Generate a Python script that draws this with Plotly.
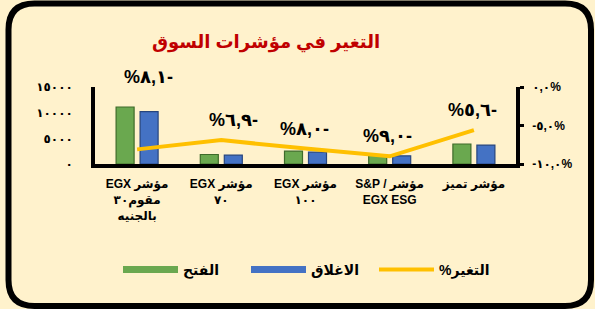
import plotly.graph_objects as go

# ---------------- data ----------------
categories = [
    "EGX مؤشر<br>مقوم٣٠<br>بالجنيه",
    "EGX مؤشر<br>٧٠",
    "EGX مؤشر<br>١٠٠",
    "S&P / مؤشر<br>EGX ESG",
    "مؤشر تميز",
]
open_vals = [11100, 1850, 2500, 1750, 3900]
close_vals = [10200, 1720, 2300, 1590, 3680]
change_pct = [-8.1, -6.9, -8.0, -9.0, -5.6]

left_ticks = [0, 5000, 10000, 15000]
right_ticks = [-10, -5, 0]

title_text = "التغير في مؤشرات السوق"
name_open = "الفتح"
name_close = "الاغلاق"
name_change = "%التغير"

# ---------------- helpers ----------------
AR = str.maketrans("0123456789", "٠١٢٣٤٥٦٧٨٩")


def ar(s):
    return str(s).translate(AR)


left_text = [ar(v) for v in left_ticks]
right_text = [("-" if v < 0 else "") + ar(f"{abs(v):.1f}".replace(".", ",")) + "%" for v in right_ticks]
pct_labels = ["%" + ar(f"{abs(v):.1f}".replace(".", ",")) + ("-" if v < 0 else "") for v in change_pct]

W, H = 595, 309
ML, MR, MT, MB = 95, 79, 87, 145
PW, PH = W - ML - MR, H - MT - MB

GREEN = "#6AA84F"
GREEN_D = "#3E6B2A"
BLUE = "#4472C4"
BLUE_D = "#26457E"
ORANGE = "#FFC000"
BG = "#FFF2CC"
FONT = "Arial, DejaVu Sans, sans-serif"


def px(x):
    return (x - ML) / PW


def py(y):
    return (H - MB - y) / PH


fig = go.Figure()

fig.add_trace(go.Bar(x=categories, y=open_vals, name=name_open, showlegend=False,
                     marker=dict(color=GREEN, line=dict(color=GREEN_D, width=1.2))))
fig.add_trace(go.Bar(x=categories, y=close_vals, name=name_close, showlegend=False,
                     marker=dict(color=BLUE, line=dict(color=BLUE_D, width=1.2))))

# legend swatches (wide bands like the original)
fig.add_trace(go.Scatter(x=[None], y=[None], mode="lines", name=name_open,
                         line=dict(color=GREEN, width=7)))
fig.add_trace(go.Scatter(x=[None], y=[None], mode="lines", name=name_close,
                         line=dict(color=BLUE, width=7)))

fig.add_trace(go.Scatter(x=categories, y=change_pct, yaxis="y2", mode="lines",
                         name=name_change, line=dict(color=ORANGE, width=4)))

yshifts = [72, 20, 20, 20, 20]
xshifts = [11, 12, -1, -2, -1]
for c, v, t, ys, xs in zip(categories, change_pct, pct_labels, yshifts, xshifts):
    fig.add_annotation(x=c, y=v, yref="y2", text=t, showarrow=False,
                       yshift=ys, xshift=xs,
                       font=dict(family=FONT, size=18, color="black", weight="bold"))

# rounded border
x0, x1, y0, y1, r = 8.5, 591, 3.5, 306, 26
path = (f"M{px(x0 + r)},{py(y0)} L{px(x1 - r)},{py(y0)} Q{px(x1)},{py(y0)} {px(x1)},{py(y0 + r)} "
        f"L{px(x1)},{py(y1 - r)} Q{px(x1)},{py(y1)} {px(x1 - r)},{py(y1)} "
        f"L{px(x0 + r)},{py(y1)} Q{px(x0)},{py(y1)} {px(x0)},{py(y1 - r)} "
        f"L{px(x0)},{py(y0 + r)} Q{px(x0)},{py(y0)} {px(x0 + r)},{py(y0)} Z")
fig.add_shape(type="path", path=path, xref="paper", yref="paper",
              line=dict(color="black", width=6), layer="above")

fig.update_layout(
    width=W, height=H,
    margin=dict(l=ML, r=MR, t=MT, b=MB, pad=0),
    paper_bgcolor=BG, plot_bgcolor=BG,
    font=dict(family=FONT, color="black"),
    title=dict(text=title_text, x=px(266), y=1 - 42 / H, xref="paper", yref="container",
               xanchor="center", yanchor="middle",
               font=dict(family=FONT, size=18, color="#C00000", weight="bold")),
    barmode="group", bargap=0.43, bargroupgap=0.25,
    showlegend=True,
    legend=dict(orientation="h", x=px(118), y=py(270), xanchor="left", yanchor="middle",
                bgcolor="rgba(0,0,0,0)", itemwidth=55, tracegroupgap=0,
                entrywidth=58, entrywidthmode="pixels",
                font=dict(family=FONT, size=14, color="black", weight="bold")),
    xaxis=dict(showline=True, linecolor="black", linewidth=4, ticks="", showgrid=False,
               ticklabelstandoff=6,
               tickfont=dict(family=FONT, size=12, color="black", weight="bold")),
    yaxis=dict(range=[0, 15000], tickvals=left_ticks, ticktext=left_text,
               showline=True, linecolor="black", linewidth=3.5, ticks="",
               showgrid=False, zeroline=False, ticklabelstandoff=16,
               tickfont=dict(family=FONT, size=12, color="black", weight="bold")),
    yaxis2=dict(range=[-10, 0], tickvals=right_ticks, ticktext=right_text,
                overlaying="y", side="right", showline=True, linecolor="black",
                linewidth=3.5, ticks="outside", ticklen=4, tickwidth=3, tickcolor="black",
                showgrid=False, zeroline=False, ticklabelstandoff=6,
                tickfont=dict(family=FONT, size=12, color="black", weight="bold")),
)

fig.write_html("out.html", config={"displayModeBar": False},
               post_script="document.body.style.margin='0';document.body.style.overflow='hidden';")
